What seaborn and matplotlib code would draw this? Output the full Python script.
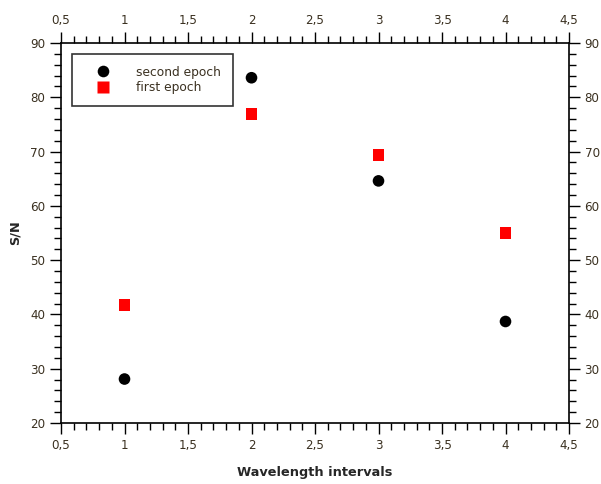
import matplotlib
matplotlib.use("Agg")
import matplotlib.pyplot as plt
import seaborn as sns
import pandas as pd
from matplotlib.ticker import MultipleLocator, FixedLocator, FixedFormatter

x_vals = [1, 2, 3, 4]
second_epoch = [28.1, 83.6, 64.6, 38.7]
first_epoch = [41.7, 76.9, 69.4, 55.0]
x_ticks = [0.5, 1, 1.5, 2, 2.5, 3, 3.5, 4, 4.5]
x_tick_labels = ["0,5", "1", "1,5", "2", "2,5", "3", "3,5", "4", "4,5"]
y_ticks = [20, 30, 40, 50, 60, 70, 80, 90]

df = pd.concat([
    pd.DataFrame({"x": x_vals, "y": second_epoch, "series": "second epoch"}),
    pd.DataFrame({"x": x_vals, "y": first_epoch, "series": "first epoch"}),
])

sns.set_style("ticks")
plt.rcParams["font.family"] = ["DejaVu Sans"]

fig = plt.figure(figsize=(6.01, 4.84), dpi=100)
ax = fig.add_axes([61/601, 1-423/484, (569-61)/601, (423-43)/484])

sns.scatterplot(data=df, x="x", y="y", hue="series", style="series",
                palette={"second epoch": "black", "first epoch": "#ff0000"},
                markers={"second epoch": "o", "first epoch": "s"},
                s=70, edgecolor="none", ax=ax, legend=True)

ax.set_xlim(0.5, 4.5)
ax.set_ylim(20, 90)
ax.xaxis.set_major_locator(FixedLocator(x_ticks))
ax.xaxis.set_major_formatter(FixedFormatter(x_tick_labels))
ax.xaxis.set_minor_locator(MultipleLocator(0.1))
ax.yaxis.set_major_locator(FixedLocator(y_ticks))
ax.yaxis.set_minor_locator(MultipleLocator(2))

label_color = "#3a3020"
ax.tick_params(axis="both", which="both", direction="out", top=True, right=True,
               labeltop=True, labelright=True, colors="black", labelcolor=label_color,
               labelsize=8.6, width=1)
ax.tick_params(which="major", length=8.2, pad=3.5)
ax.tick_params(which="minor", length=5)
ax.tick_params(axis="y", which="major", pad=3)
for sp in ax.spines.values():
    sp.set_visible(True)
    sp.set_color("black")
    sp.set_linewidth(1.2)

ax.set_xlabel("Wavelength intervals", fontsize=9.3, fontweight="bold", labelpad=10)
ax.set_ylabel("S/N", fontsize=9.3, fontweight="bold", labelpad=6)

handles, labels = ax.get_legend_handles_labels()
leg = ax.legend(handles, labels, loc="upper left", bbox_to_anchor=(11/508, 1-11/380),
                frameon=True, fancybox=False, edgecolor="black", fontsize=8.8,
                handletextpad=1.1, borderpad=0.95, labelspacing=0.2,
                borderaxespad=0, handlelength=3.2)
leg.get_frame().set_linewidth(1.2)
for t in leg.get_texts():
    t.set_color(label_color)

fig.savefig("out.png", dpi=100)
